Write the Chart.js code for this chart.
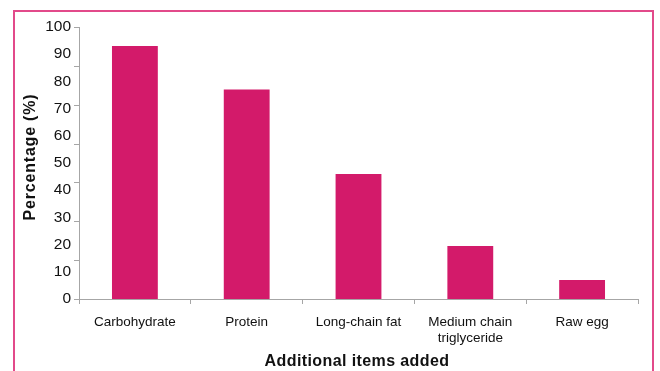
<!DOCTYPE html>
<html>
<head>
<meta charset="utf-8">
<script src="https://cdn.jsdelivr.net/npm/chart.js@4/dist/chart.umd.min.js"></script>
<style>
  html, body { margin: 0; padding: 0; background: #fff; overflow: hidden; }
  #wrap { position: relative; width: 660px; height: 371px; }
  #frame { position: absolute; left: 13px; top: 10px; width: 641px; height: 400px;
           border: 2px solid #e24a8a; box-sizing: border-box; }
  canvas { position: absolute; left: 0; top: 0; }
</style>
</head>
<body>
<div id="wrap">
  <div id="frame"></div>
  <canvas id="chart" width="660" height="371"></canvas>
</div>
<script>
// Datos
const categories = ['Carbohydrate', 'Protein', 'Long-chain fat', ['Medium chain', 'triglyceride'], 'Raw egg'];
const percentages = [93, 77, 46, 19.5, 7];
const yTicks = [0, 10, 20, 30, 40, 50, 60, 70, 80, 90, 100];

const FONT = '"Liberation Sans Narrow", "Arial Narrow", "Liberation Sans", sans-serif';

// Titulos y marcas del eje Y
const extras = {
  id: 'extras',
  afterDraw(chart) {
    const ctx = chart.ctx;
    const y = chart.scales.y;
    ctx.save();
    // marcas del eje y (7 divisiones)
    ctx.strokeStyle = '#a6a6a6';
    ctx.lineWidth = 1;
    for (let i = 0; i <= 7; i++) {
      const py = Math.round(y.getPixelForValue(100 * i / 7)) + 0.5;
      ctx.beginPath();
      ctx.moveTo(y.right - 5, py);
      ctx.lineTo(y.right, py);
      ctx.stroke();
    }
    // titulos
    ctx.fillStyle = '#111';
    ctx.font = 'bold 16px ' + FONT;
    ctx.letterSpacing = '0.4px';
    ctx.textAlign = 'center';
    ctx.textBaseline = 'middle';
    ctx.fillText('Additional items added', 357, 362);
    ctx.letterSpacing = '0.8px';
    ctx.translate(31, 157);
    ctx.rotate(-Math.PI / 2);
    ctx.fillText('Percentage (%)', 0, 0);
    ctx.restore();
  }
};

const chart = new Chart(document.getElementById('chart').getContext('2d'), {
  type: 'bar',
  data: {
    labels: categories,
    datasets: [{
      label: 'Percentage',
      data: percentages,
      backgroundColor: '#d31a6a',
      borderWidth: 0,
      barPercentage: 0.41,
      categoryPercentage: 1
    }]
  },
  options: {
    responsive: false,
    animation: false,
    layout: { padding: { top: 27, right: 22, left: 0, bottom: 0 } },
    plugins: {
      legend: { display: false },
      tooltip: { enabled: false }
    },
    scales: {
      x: {
        grid: { display: true, offset: true, drawOnChartArea: false, drawTicks: true, tickLength: 5, color: '#a6a6a6' },
        border: { display: true, color: '#a6a6a6' },
        ticks: { color: '#111', font: { family: FONT, size: 13.5 }, padding: 10, maxRotation: 0, autoSkip: false },
        afterFit(scale) { scale.height = 72; }
      },
      y: {
        min: 0,
        max: 100,
        afterBuildTicks(scale) { scale.ticks = yTicks.map(v => ({ value: v })); },
        grid: { display: false },
        border: { display: true, color: '#a6a6a6' },
        ticks: { color: '#111', font: { family: FONT, size: 15.5 }, padding: 0 },
        afterFit(scale) { scale.width = 79; }
      }
    }
  },
  plugins: [extras]
});
</script>
</body>
</html>
